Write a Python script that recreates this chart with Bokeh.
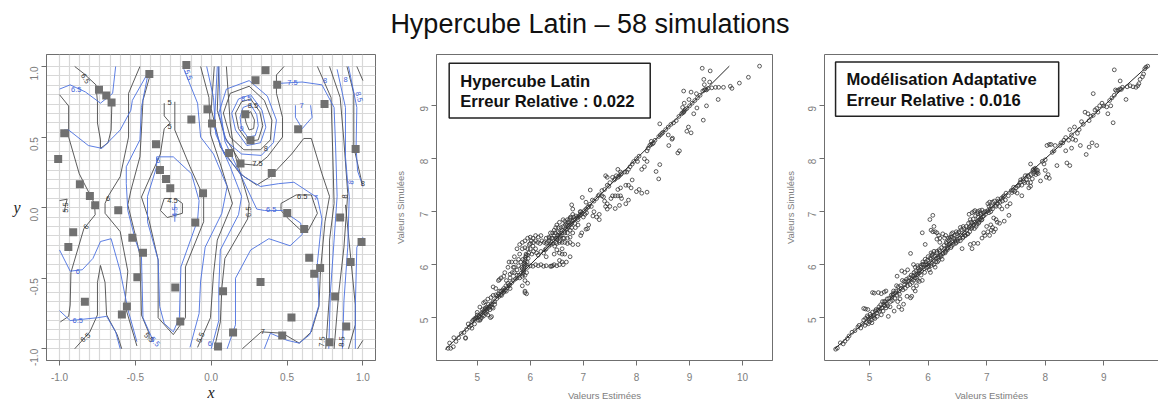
from bokeh.plotting import figure
from bokeh.layouts import column, row
from bokeh.models import Div, FixedTicker, NumeralTickFormatter, LinearAxis, Label, BoxAnnotation
from bokeh.core.properties import value
from bokeh.embed import file_html
from bokeh.resources import INLINE
from math import pi

TITLE = "Hypercube Latin – 58 simulations"
GRID_STEPS = 30

designs = [(-0.164,1.01),(-0.408,0.946),(0.358,0.974),(0.292,0.903),(0.435,0.87),(-0.74,0.835),(-0.692,0.794),(-0.657,0.745),
(0.747,0.735),(-0.025,0.697),(0.225,0.662),(-0.131,0.624),(0.005,0.596),(-0.969,0.527),(0.573,0.556),(0.259,0.478),
(-0.364,0.449),(0.952,0.416),(0.118,0.388),(-1.009,0.345),(0.193,0.312),(-0.338,0.267),(0.399,0.246),(-0.298,0.203),
(-0.27,0.137),(-0.866,0.165),(-0.054,0.102),(-0.8,0.083),(-0.765,0.017),(-0.613,-0.019),(0.501,-0.038),(0.85,-0.069),
(-0.105,-0.106),(0.613,-0.151),(-0.91,-0.175),(-0.52,-0.213),(0.991,-0.243),(-0.942,-0.279),(-0.45,-0.319),(0.646,-0.355),
(0.919,-0.385),(0.718,-0.428),(0.679,-0.468),(-0.487,-0.494),(0.325,-0.527),(-0.237,-0.565),(0.078,-0.593),(0.817,-0.629),
(-0.833,-0.667),(-0.556,-0.7),(-0.589,-0.757),(0.529,-0.778),(-0.204,-0.806),(0.89,-0.842),(0.144,-0.884),(0.468,-0.905),
(0.78,-0.953),(0.045,-0.983)]

black_contours = [
[(-0.9,1.0),(-0.84,0.95),(-0.76,0.87),(-0.75,0.75),(-0.75,0.6),(-0.73,0.48),(-0.73,0.42),(-0.68,0.46),(-0.66,0.55),(-0.655,0.74)],
[(-1,0.8),(-0.94,0.72),(-0.94,0.5),(-0.87,0.24),(-0.77,0.03),(-0.765,-0.05),(-0.84,-0.15),(-0.925,-0.46),(-0.93,-0.69),(-0.94,-0.77),(-0.995,-0.81)],
[(-0.47,1),(-0.545,0.81),(-0.545,0.5),(-0.6,0.22),(-0.68,0.08),(-0.7,0.03),(-0.7,-0.04),(-0.6,-0.17),(-0.55,-0.45),(-0.57,-0.69),(-0.49,-0.98)],
[(-0.9,-1),(-0.8,-0.88),(-0.75,-0.76),(-0.75,-0.53),(-0.73,-0.41),(-0.7,-0.53),(-0.69,-0.76),(-0.62,-0.9),(-0.59,-1)],
[(-1,0.05),(-0.95,0.06),(-0.97,-0.03)],
[(-0.4,0.95),(-0.45,0.76),(-0.46,0.55),(-0.47,0.36),(-0.53,0.12),(-0.55,0.02),(-0.49,-0.24),(-0.47,-0.34),(-0.46,-0.76),(-0.41,-0.89),(-0.41,-0.93)],
[(-0.31,0.74),(-0.31,0.65),(-0.27,0.6),(-0.31,0.56),(-0.335,0.38),(-0.46,0.075),(-0.41,-0.09),(-0.35,-0.37),(-0.35,-0.78),(-0.25,-0.9),(-0.17,-0.78),(-0.17,-0.42),(-0.05,-0.1),(-0.05,0.075),(-0.14,0.29),(-0.24,0.55),(-0.24,0.75)],
[(-0.26,0.065),(-0.31,0.065),(-0.335,-0.02),(-0.29,-0.07),(-0.19,-0.04),(-0.19,0.03),(-0.235,0.065)],
[(-0.07,1),(-0.015,0.78),(-0.005,0.52),(0.06,0.31),(0.14,0.03),(0.04,-0.23),(0.015,-0.47),(-0.005,-0.78),(-0.09,-0.99)],
[(0.1,1),(0.125,0.6),(0.15,0.4),(0.25,0.03),(0.24,-0.08),(0.09,-0.36),(0.07,-0.57),(0.06,-0.81),(0.02,-1)],
[(0.48,1),(0.43,0.94),(0.43,0.81),(0.47,0.64),(0.47,0.5),(0.37,0.36),(0.3,0.3),(0.2,0.31),(0.09,0.5),(0.04,0.69),(0.05,1)],
[(0.02,1),(-0.0,0.7),(0.06,0.43),(0.19,0.24),(0.3,0.16),(0.39,0.22),(0.53,0.38),(0.61,0.49),(0.66,0.49),(0.73,0.24),(0.78,0.08),(0.75,-0.1),(0.72,-0.45),(0.71,-0.7),(0.66,-0.88),(0.58,-0.96),(0.47,-0.89),(0.33,-0.88),(0.205,-1)],
[(0.46,0.03),(0.56,0.09),(0.66,0.09),(0.7,-0.04),(0.64,-0.16),(0.59,-0.16),(0.5,-0.07),(0.46,-0.02),(0.46,0.03)],
[(0.25,0.86),(0.35,0.76),(0.4,0.62),(0.39,0.48),(0.325,0.41),(0.215,0.41),(0.125,0.5),(0.08,0.67),(0.125,0.81),(0.25,0.86)],
[(0.26,0.77),(0.32,0.68),(0.34,0.58),(0.31,0.48),(0.24,0.47),(0.18,0.56),(0.16,0.67),(0.2,0.75),(0.26,0.77)],
[(0.26,0.68),(0.285,0.62),(0.28,0.56),(0.25,0.55),(0.23,0.6),(0.22,0.65),(0.26,0.68)],
[(0.7,1),(0.79,0.78),(0.8,0.43),(0.81,0.03),(0.78,-0.23),(0.78,-0.61),(0.755,-1)],
[(0.78,1),(0.85,0.78),(0.875,0.47),(0.9,0.1),(0.875,-0.28),(0.84,-0.61),(0.81,-1)],
[(0.895,1),(0.94,0.81),(0.94,0.43),(0.995,0.17)],
[(0.96,1),(1.0,0.9)],
[(0.885,0.02),(0.92,-0.36),(0.95,-0.69),(0.95,-0.83),(0.905,-1)],
[(1,-0.94),(0.965,-1)],
]

blue_contours = [
[(-1,0.84),(-0.93,0.87),(-0.83,0.82),(-0.73,0.74),(-0.65,0.81),(-0.63,1)],
[(-0.42,0.95),(-0.52,0.76),(-0.53,0.69),(-0.6,0.55),(-0.72,0.42),(-0.81,0.44),(-0.94,0.55),(-0.97,0.55)],
[(-0.42,0.93),(-0.46,0.71),(-0.47,0.48),(-0.56,0.29),(-0.56,0.17),(-0.55,-0.02),(-0.5,-0.23),(-0.46,-0.35),(-0.45,-0.78),(-0.38,-0.95)],
[(-1,-0.3),(-0.93,-0.45),(-0.85,-0.44),(-0.78,-0.36),(-0.73,-0.24),(-0.66,-0.22),(-0.6,-0.45),(-0.55,-0.72),(-0.49,-0.95)],
[(-1,-0.73),(-0.93,-0.8),(-0.75,-0.78),(-0.69,-0.77),(-0.63,-0.88),(-0.6,-1)],
[(-0.36,0.36),(-0.25,0.36),(-0.13,0.24),(-0.08,0.05),(-0.09,-0.09),(-0.2,-0.42),(-0.21,-0.78),(-0.25,-0.88),(-0.31,-0.82),(-0.34,-0.7),(-0.35,-0.37),(-0.42,-0.1),(-0.42,0.08),(-0.36,0.29),(-0.36,0.36)],
[(-0.24,0.03),(-0.24,-0.1)],
[(-0.18,0.98),(-0.09,0.74),(-0.07,0.5),(0.015,0.38),(0.105,0.15),(0.07,-0.04),(-0.04,-0.28),(-0.07,-0.52),(-0.08,-0.75),(-0.14,-0.99)],
[(-0.03,1),(0.015,0.78),(0.03,0.52),(0.125,0.29),(0.2,0.08),(0.18,-0.05),(0.06,-0.3),(0.05,-0.57),(0.05,-0.8),(0.0,-1)],
[(0.05,1),(0.06,0.7),(0.09,0.47),(0.19,0.24),(0.3,-0.01),(0.35,-0.02),(0.47,-0.02),(0.59,-0.11),(0.6,-0.19),(0.52,-0.27),(0.38,-0.22),(0.26,-0.3),(0.16,-0.5),(0.16,-0.83),(0.105,-1)],
[(0.04,1),(0.02,0.57),(0.085,0.38),(0.215,0.22),(0.325,0.15),(0.445,0.17),(0.545,0.18),(0.7,0.07),(0.73,-0.08),(0.7,-0.39),(0.71,-0.69),(0.65,-0.9),(0.58,-0.96),(0.5,-0.94),(0.39,-0.89),(0.35,-1)],
[(0.555,0.725),(0.555,0.64),(0.6,0.56),(0.665,0.64),(0.655,0.725)],
[(0.25,0.9),(0.37,0.79),(0.43,0.62),(0.41,0.46),(0.33,0.37),(0.2,0.38),(0.1,0.47),(0.05,0.67),(0.1,0.84),(0.25,0.9)],
[(0.26,0.8),(0.335,0.69),(0.36,0.57),(0.325,0.46),(0.235,0.44),(0.16,0.55),(0.135,0.67),(0.18,0.77),(0.26,0.8)],
[(0.26,0.73),(0.3,0.66),(0.31,0.58),(0.29,0.51),(0.24,0.5),(0.2,0.56),(0.19,0.64),(0.21,0.71),(0.26,0.73)],
[(0.44,0.88),(0.6,0.89),(0.73,0.87),(0.81,0.71),(0.82,0.43),(0.83,0.08),(0.81,-0.23),(0.785,-0.61),(0.775,-1)],
[(0.83,0.98),(0.885,0.71),(0.885,0.36),(0.9,0.17),(0.91,0.08),(0.9,-0.28),(0.875,-0.66),(0.865,-1)],
[(0.905,1),(0.96,0.71),(0.955,0.43),(0.965,0.26),(1.0,0.15)],
[(1,-0.21),(0.96,-0.28),(0.95,-0.7),(0.95,-1)],
]

black_labels = [(-0.83,0.915,"6.5",-1.0),(-0.275,0.745,"5",0),(-0.275,0.575,"5",0),(-0.68,0.065,"6",0),(-0.96,0.0,"5.5",1.57),
(-0.825,-0.135,"6",0.9),(-0.255,0.05,"4.5",0),(0.275,0.725,"8.5",0),(0.36,0.42,"8",0),(0.305,0.31,"7.5",0),(0.6,0.08,"6.5",0),
(0.245,-0.03,"6.5",1.57),(0.34,-0.88,"7",0),(-0.83,-0.92,"6.5",0.7),(-0.07,-0.92,"5.5",1.2),(-0.41,-0.92,"5.5",-0.8),(0.88,0.08,"8",1.57),
(0.73,-0.95,"7.5",1.5),(0.86,-0.95,"8.5",1.5),(1.0,0.17,"8",0)]
blue_labels = [(-0.89,0.84,"6.5",0),(-0.15,0.94,"5.5",-1.2),(0.535,0.885,"7.5",0),(0.75,0.9,"8",0),(0.885,0.91,"8",0),(0.975,0.785,"8.5",-1.3),
(0.23,0.77,"8.5",0),(0.2,0.56,"9",0),(0.595,0.725,"7",0),(-0.35,0.335,"5",0),(-0.24,-0.03,"4.5",1.57),(0.69,0.075,"7",0),(0.395,-0.015,"6.5",0),
(0.92,0.18,"8",1.4),(-0.88,-0.45,"6",0),(-0.88,-0.8,"6.5",0),(-0.37,-0.95,"5.5",-0.8),(-0.01,-0.965,"6",0)]

x_ticks_a = [-1.0,-0.5,0.0,0.5,1.0]
y_ticks_a = [-1.0,-0.5,0.0,0.5,1.0]
x_ticks_b = [5,6,7,8,9,10]
y_ticks_b = [5,6,7,8,9]
x_ticks_c = [5,6,7,8,9]
y_ticks_c = [5,6,7,8,9]

latin_points = [
(4.45,4.42),(4.5,4.42),(4.55,4.45),(4.48,4.52),(4.56,4.62),(4.6,4.55),(4.65,4.62),(4.7,4.7),(4.75,4.72),(4.78,4.62),(4.78,4.61),(4.8,4.78),(4.85,4.82),(4.83,4.88),(4.88,4.85),(4.9,4.92),(4.92,4.95),(4.95,4.98),(4.98,5.0),(4.9,4.8),(4.95,4.88),(5.0,5.05),(5.03,5.02),(5.02,4.95),(5.06,4.97),(5.08,5.0),(5.1,5.1),(5.1,5.15),(5.12,5.03),(5.15,5.18),(5.17,5.08),(5.18,5.2),(5.2,5.05),(5.22,5.18),(5.24,5.15),(5.25,5.0),(5.27,5.02),(5.28,5.2),(5.3,5.18),(5.05,5.2),(5.12,5.28),(5.2,5.35),(5.15,5.3),(5.26,5.38),(5.3,5.42),(5.35,5.43),(5.4,5.45),(5.45,5.5),(5.35,5.55),(5.3,5.58),(5.4,5.7),(5.42,5.72),(5.45,5.75),(5.5,5.78),(5.48,5.52),(5.5,5.55),(5.55,5.5),(5.6,5.6),(5.62,5.55),(5.55,5.7),
(4.96,4.97),(5.0,5.0),(5.04,5.04),(5.07,5.07),(5.13,5.13),(5.16,5.16),(5.19,5.17),(5.23,5.21),(5.27,5.26),(5.33,5.3),(5.37,5.36),(5.41,5.4),(5.44,5.43),(5.47,5.46),(5.51,5.5),(5.53,5.52),(5.57,5.57),(5.61,5.62),(5.65,5.66),(5.68,5.7),(5.72,5.73),(5.75,5.75),(5.79,5.8),
(5.6,6.05),(5.65,6.05),(5.68,5.95),(5.7,6.15),(5.58,5.95),(5.52,5.85),(5.62,5.82),(5.7,5.85),(5.75,5.9),(5.78,6.1),(5.8,6.2),(5.75,6.3),(5.8,6.38),(5.85,6.42),(5.9,6.45),(5.95,6.5),(6.0,6.52),(6.05,6.5),(6.1,6.55),(6.15,6.52),(6.2,6.55),(6.3,6.5),(6.35,6.52),(5.72,6.05),(5.8,5.75),(5.85,5.6),(5.9,5.5),(5.9,5.47),(5.93,5.45),(5.9,5.7),(5.95,5.65),
(5.85,5.78),(5.86,5.82),(5.87,5.86),(5.88,5.9),(5.88,5.94),(5.89,5.98),(5.9,6.02),(5.9,6.06),(5.9,6.1),(5.91,6.14),(5.92,6.17),(5.92,6.2),(5.95,6.18),(5.83,5.84),(5.85,5.92),(5.93,5.85),(5.9,5.8),(5.95,5.95),(5.95,6.3),(5.9,6.32),(5.85,6.3),(6.0,6.3),(6.05,6.35),(6.0,6.4),(5.97,6.22),(6.03,6.2),(6.06,6.25),(6.1,6.3),(6.12,6.22),(6.15,6.18),(6.2,6.25),(6.25,6.22),(6.28,6.28),
(6.0,5.98),(6.05,5.97),(6.1,6.0),(6.15,5.98),(6.2,6.0),(6.25,5.97),(6.3,5.98),(6.38,5.97),(6.4,5.97),(6.42,5.98),(6.45,6.0),(6.5,5.98),(6.55,6.08),(6.6,6.05),(6.55,6.0),(6.62,6.0),(6.68,6.05),(6.75,6.15),(6.65,6.2),(6.6,6.2),(6.55,6.22),(6.5,6.28),(6.45,6.2),(6.3,6.15),
(6.3,6.4),(6.35,6.45),(6.4,6.42),(6.42,6.5),(6.45,6.55),(6.42,6.6),(6.45,6.65),(6.48,6.5),(6.5,6.48),(6.52,6.55),(6.55,6.52),(6.48,6.7),(6.5,6.75),(6.55,6.8),(6.52,6.62),(6.58,6.7),(6.6,6.65),(6.62,6.85),(6.65,6.6),(6.55,6.6),(6.48,6.42),(6.55,6.42),(6.6,6.42),(6.65,6.42),(6.7,6.4),(6.75,6.42),(6.62,6.5),(6.7,6.5),(6.75,6.52),(6.8,6.38),(6.9,6.38),(6.6,6.3),
(6.3,6.3),(6.35,6.35),(6.38,6.38),(6.5,6.5),(6.55,6.55),(6.6,6.6),(6.64,6.63),(6.67,6.67),(6.7,6.68),(6.72,6.72),(6.74,6.75),(6.76,6.76),(6.78,6.78),(6.8,6.82),(6.82,6.84),(6.84,6.86),(6.88,6.88),(6.9,6.9),(6.92,6.92),(6.94,6.94),(6.96,6.95),(6.98,6.98),
(6.65,6.82),(6.7,6.85),(6.75,6.88),(6.8,6.95),(6.8,7.05),(6.78,7.13),(6.7,6.75),(6.75,6.65),(6.8,6.6),(6.85,6.7),(6.9,6.75),(6.95,6.55),(6.97,6.6),(7.05,6.67),(7.08,6.68),(7.1,6.75),(6.95,7.0),(6.98,7.27),(7.05,7.18),(7.02,7.02),(7.05,7.05),(7.08,7.08),(7.1,7.1),(7.12,7.14),(7.15,7.1),(7.2,7.0),(7.18,6.92),(7.13,7.41),(7.17,7.22),(7.2,7.2),(7.25,7.25),(7.28,7.3),(7.3,6.95),(7.25,6.9),(7.3,6.85),(7.3,7.32),(7.35,7.3),(7.38,7.28),(7.4,7.2),(7.42,7.1),(7.45,7.05),(7.45,7.15),(7.5,7.1),(7.52,7.25),(7.55,7.3),
(7.35,7.4),(7.4,7.42),(7.45,7.5),(7.42,7.68),(7.45,7.65),(7.48,7.48),(7.5,7.55),(7.55,7.65),(7.58,7.6),(7.6,7.62),(7.62,7.68),(7.65,7.65),(7.67,7.67),(7.7,7.7),(7.72,7.72),(7.65,7.8),(7.7,7.75),(7.6,7.06),(7.68,7.12),(7.65,7.3),(7.7,7.3),(7.72,7.25),(7.6,7.3),(7.65,7.42),(7.7,7.45),(7.8,7.15),(7.85,7.22),(7.8,7.5),(7.85,7.5),(7.9,7.45),(7.92,7.6),(7.78,7.75),(7.82,7.75),(7.85,7.8),(7.88,7.85),(7.92,7.9),
(7.95,7.95),(8.0,8.0),(8.02,7.95),(8.05,8.05),(8.0,7.38),(8.05,7.42),(8.1,7.35),(8.2,7.37),(8.1,7.8),(8.15,7.85),(8.2,7.95),(8.15,8.0),(8.22,8.2),(8.25,8.25),(8.27,8.27),(8.3,8.28),(8.32,8.3),(8.28,8.33),(8.35,8.35),(8.2,8.15),(8.37,7.76),(8.44,7.89),(8.42,7.62),(8.42,8.42),(8.45,8.45),(8.48,8.48),(8.44,8.66),(8.5,8.5),(8.55,8.55),(8.6,8.6),(8.65,8.65),(8.7,8.68),(8.75,8.72),(8.6,8.45),(8.68,8.39),(8.67,8.37),(8.61,8.25),(8.81,8.15),(8.78,8.11),(8.8,8.8),(8.85,8.85),(8.87,8.87),(8.89,8.88),(8.9,8.9),(8.92,8.93),(8.95,8.95),(8.87,8.97),(8.9,9.05),(8.89,9.28),(9.03,9.26),(9.13,9.23),(8.99,9.12),(9.08,8.85),(9.14,8.96),(8.98,8.6),(8.95,8.52),(9.03,8.49),(9.0,9.0),(9.05,9.05),(9.1,9.1),(9.15,9.15),(9.2,9.2),(9.25,9.28),(9.28,9.3),(9.3,9.31),(9.32,9.3),(9.35,9.33),
(10.32,9.75),(10.11,9.54),(9.94,9.43),(9.77,9.37),(9.8,9.33),(9.64,9.35),(9.55,9.35),(9.49,9.35),(9.42,9.34),(9.24,9.71),(9.39,9.66),(9.27,9.5),(9.38,9.45),(9.54,9.12),(9.32,9.0),(9.26,8.73),(9.28,9.4),
(5.0,5.1),(5.05,4.95),(5.1,5.05),(5.14,5.1),(5.18,5.12),(5.21,5.25),(5.25,5.22),(5.3,5.3),(5.33,5.25),(5.38,5.41),(5.42,5.5),(5.46,5.42),(5.5,5.48),(5.54,5.6),(5.58,5.65),(5.62,5.75),(5.66,5.85),(5.7,5.95),(5.75,5.8),(5.78,5.98),(5.82,6.05),(5.84,5.95),(5.86,6.1),(5.88,6.02),(5.92,6.0),(5.94,6.05),(5.96,6.12),(5.98,6.38),(6.02,6.45),(6.06,6.42),(6.1,6.45),(6.14,6.42),(6.18,6.4),(6.22,6.45),(6.26,6.42),(6.32,6.42),(6.36,6.5),(6.38,6.6),(6.4,6.5),(6.43,6.4),(6.46,6.35),(6.47,6.6),(6.5,6.4),(6.53,6.7),(6.56,6.45),(6.58,6.55),(6.62,6.72),(6.64,6.5),(6.66,6.75),(6.68,6.78),(6.7,6.6),(6.72,6.8),(6.74,6.85),(6.76,6.9),(6.78,6.7),(6.82,6.9),(6.84,6.78),(6.86,6.92),(6.9,6.85),(6.94,7.0),(7.0,6.9),(7.03,6.95),(7.06,6.98),
]

adaptive_points = [
(4.42,4.4),(4.45,4.42),(4.5,4.52),(4.55,4.5),(4.58,4.55),(4.62,4.6),(4.65,4.65),(4.7,4.72),(4.75,4.75),(4.8,4.82),(4.82,4.85),(4.85,4.8),(4.88,4.88),(4.9,4.95),(4.92,4.85),(4.95,4.9),(4.97,5.0),(4.98,4.88),(5.0,4.92),(5.02,5.02),(5.04,4.9),(5.05,5.1),(5.07,5.0),(5.08,5.05),(5.1,5.12),(5.12,5.08),(4.9,5.17),(4.93,5.16),(4.97,5.15),(5.05,5.47),(5.08,5.46),(5.15,5.47),(5.2,5.45),(5.25,5.48),(5.28,5.5),
(5.14,5.14),(5.16,5.2),(5.18,5.16),(5.2,5.05),(5.22,5.3),(5.24,5.24),(5.26,5.22),(5.28,5.18),(5.25,5.3),(5.3,5.35),(5.32,5.02),(5.35,5.2),(5.36,5.3),(5.38,5.38),(5.4,5.42),(5.42,5.12),(5.4,5.45),(5.44,5.46),(5.46,5.6),(5.48,5.3),(5.5,5.5),(5.52,5.35),(5.54,5.55),(5.56,5.7),(5.58,5.25),(5.6,5.62),(5.62,5.68),(5.64,5.4),(5.66,5.68),(5.5,5.2),(5.55,5.15),(5.47,5.78),(5.55,5.88),(5.6,5.85),(5.65,5.9),(5.7,5.37),(5.72,5.4),(5.75,5.55),(5.78,5.5),(5.8,5.6),(5.82,5.7),
(5.7,5.75),(5.72,5.72),(5.74,5.78),(5.76,5.85),(5.78,5.75),(5.8,5.8),(5.82,5.82),(5.84,5.88),(5.86,5.9),(5.7,6.21),(5.75,6.0),(5.78,5.95),(5.82,5.98),(5.88,5.8),(5.9,5.7),(5.85,5.68),(5.9,6.6),(5.95,6.38),(5.88,5.95),(5.9,6.0),(5.92,6.0),(5.94,5.85),(5.96,6.05),(5.98,6.0),(6.0,5.95),(6.02,6.02),(6.04,5.85),(6.05,6.1),(6.06,6.02),(6.08,6.2),(6.1,6.0),(6.12,5.95),(6.14,6.12),(6.16,6.05),(6.18,6.08),(6.2,6.25),(6.22,6.15),(6.24,6.1),(6.0,6.15),(6.05,6.22),(6.1,6.25),(6.15,6.22),(6.18,6.15),(5.95,6.0),(6.02,5.9),
(6.03,6.85),(6.08,6.93),(6.1,6.72),(6.12,6.62),(6.05,6.65),(6.08,6.62),(6.15,6.6),(6.18,6.55),(6.2,6.5),(6.15,6.48),(6.2,6.42),(6.25,6.58),(6.28,6.5),(6.3,6.55),(6.32,6.4),(6.35,6.45),(6.26,6.22),(6.28,6.3),(6.3,6.25),(6.32,6.3),(6.34,6.32),(6.36,6.38),(6.38,6.4),(6.4,6.35),(6.42,6.42),(6.44,6.5),(6.46,6.45),(6.48,6.42),(6.5,6.48),(6.52,6.6),(6.54,6.5),(6.56,6.55),(6.58,6.3),(6.6,6.52),(6.62,6.6),(6.64,6.55),(6.66,6.65),(6.68,6.58),(6.7,6.7),(6.55,6.7),(6.6,6.72),(6.42,6.6),(6.48,6.62),(6.4,6.58),(6.35,6.5),(6.38,6.52),
(6.72,6.72),(6.74,6.68),(6.76,6.78),(6.78,6.75),(6.8,6.8),(6.82,6.72),(6.84,6.82),(6.85,6.9),(6.86,6.78),(6.88,6.85),(6.7,6.95),(6.72,6.85),(6.75,6.98),(6.78,7.0),(6.8,7.02),(6.85,7.0),(6.88,7.02),(6.9,6.95),(6.92,7.03),(6.95,6.98),(6.9,6.88),(6.92,6.85),(6.95,6.92),(6.78,6.4),(6.75,6.3),(6.72,6.38),(6.85,6.4),(6.92,6.5),(6.95,6.6),(6.97,6.55),(7.0,6.72),(7.02,6.62),(7.05,6.55),(7.07,6.75),(7.08,6.65),(7.1,6.7),(7.12,6.62),(7.15,6.67),(7.18,6.8),(7.22,6.78),(7.12,6.88),(7.16,6.85),(7.3,6.82),
(6.98,6.95),(7.0,7.0),(7.02,7.02),(7.04,6.98),(7.06,7.05),(7.08,7.1),(7.1,7.05),(7.02,7.15),(7.05,7.18),(7.1,7.18),(7.15,7.12),(7.18,7.15),(7.2,7.2),(7.22,7.1),(7.25,7.25),(7.28,7.28),(7.3,7.3),(7.26,7.05),(7.32,7.22),(7.35,7.1),(7.38,6.93),(7.4,7.15),(7.42,7.4),(7.45,7.4),(7.48,7.38),(7.5,7.45),(7.52,7.35),(7.55,7.5),(7.58,7.6),(7.6,7.5),(7.6,7.3),(7.62,7.62),(7.65,7.55),(7.68,7.6),(7.7,7.68),(7.72,7.45),(7.75,7.55),(7.78,7.62),(7.8,7.72),(7.82,7.75),(7.84,7.7),(7.85,7.78),(7.86,7.74),(7.88,7.72),(7.75,7.9),(7.8,7.8),(7.7,7.55),(7.75,7.48),(7.92,7.58),
(7.95,7.95),(7.98,7.9),(8.0,7.98),(8.02,7.65),(8.05,7.7),(8.07,7.63),(8.0,7.78),(8.03,8.25),(8.07,8.27),(8.1,8.27),(8.12,8.12),(8.15,8.15),(8.17,8.25),(8.2,7.87),(8.25,8.25),(8.27,8.3),(8.3,8.3),(8.32,8.35),(8.35,8.4),(8.37,7.92),(8.42,7.87),(8.35,8.15),(8.45,8.2),(8.4,8.35),(8.42,8.55),(8.45,8.45),(8.47,8.37),(8.5,8.6),(8.52,8.35),(8.55,8.48),(8.58,8.55),(8.6,8.25),(8.62,8.7),(8.65,8.65),(8.7,8.08),(8.75,8.22),(8.8,8.3),(8.88,8.25),(8.68,8.88),(8.73,8.85),(8.75,8.72),(8.78,8.8),(8.82,8.82),(8.85,8.92),(8.88,8.95),(8.9,8.88),(8.93,9.0),(8.82,9.23),(8.97,9.05),(9.0,9.0),(9.05,8.98),(9.07,8.85),(9.12,9.0),(9.16,8.68),(9.1,9.1),(9.14,9.15),(9.18,9.2),(9.2,9.3),(9.22,9.28),(9.25,9.3),(9.28,9.32),(9.3,9.31),(9.32,9.35),(9.18,9.68),(9.28,9.47),(9.38,9.12),(9.4,9.36),(9.45,9.38),(9.5,9.36),(9.55,9.35),(9.58,9.38),(9.6,9.42),(9.62,9.5),(9.66,9.55),(9.68,9.6),(9.7,9.7),(9.75,9.75),(9.72,9.73),
(4.93,4.98),(4.96,5.03),(4.99,4.97),(5.01,5.06),(5.03,4.95),(5.06,5.03),(5.09,4.98),(5.11,5.15),(5.13,5.02),(5.17,5.12),(5.19,5.24),(5.21,5.18),(5.23,5.12),(5.27,5.3),(5.29,5.26),(5.31,5.22),(5.33,5.36),(5.37,5.42),(5.39,5.32),(5.41,5.5),(5.43,5.36),(5.45,5.5),(5.47,5.42),(5.49,5.58),(5.51,5.44),(5.53,5.6),(5.57,5.52),(5.59,5.68),(5.61,5.55),(5.63,5.72),(5.65,5.6),(5.67,5.75),(5.69,5.62),(5.71,5.8),(5.73,5.66),(5.75,5.7),(5.77,5.8),(5.79,5.88),(5.81,5.74),(5.83,5.94),(5.85,5.84),(5.87,5.98),(5.89,5.88),(5.91,6.05),(5.93,5.92),(5.95,6.1),(5.97,5.94),(5.99,6.08),(6.01,5.98),(6.03,6.12),(6.05,5.98),(6.07,6.18),(6.09,6.08),(6.11,6.16),(6.13,6.05),(6.15,6.25),(6.17,6.12),(6.19,6.28),(6.21,6.18),(6.23,6.32),(6.25,6.2),(6.27,6.36),(6.29,6.22),(6.31,6.42),(6.33,6.28),(6.35,6.38),(6.37,6.48),(6.39,6.32),(6.41,6.52),(6.43,6.38),(6.45,6.55),(6.47,6.4),(6.49,6.58),(6.51,6.44),(6.53,6.62),(6.55,6.45),(6.57,6.66),(6.59,6.5),(6.61,6.68),(6.63,6.55),(6.65,6.72),(6.67,6.58),(6.69,6.78),(6.71,6.62),(6.73,6.8),(6.75,6.7),(6.77,6.86),(6.79,6.68),(6.81,6.92),(6.83,6.76),(6.85,6.96),(6.87,6.8),(6.89,6.98),(6.91,6.84),(6.93,6.9),(6.97,7.0),
(7.04,7.1),(7.07,7.0),(7.13,7.2),(7.16,7.1),(7.19,7.24),(7.23,7.18),(7.27,7.2),(7.33,7.35),(7.37,7.3),(7.43,7.36),(7.46,7.46),(7.53,7.48),(7.57,7.55),(7.63,7.58),(7.66,7.68),(7.72,7.66),(7.76,7.7),(7.79,7.78),(7.83,7.82),(7.87,7.78),
]

REF_START = 4.4
REF_END = 9.75

FONT = "Liberation Sans"
GRAY = "#6f6f6f"

def style(p, xt, yt, fmt=None):
    p.xaxis.ticker = FixedTicker(ticks=xt)
    p.yaxis.ticker = FixedTicker(ticks=yt)
    if fmt:
        p.xaxis.formatter = NumeralTickFormatter(format=fmt)
        p.yaxis.formatter = NumeralTickFormatter(format=fmt)
    for ax in (p.xaxis[0], p.yaxis[0]):
        ax.axis_line_color = GRAY
        ax.major_tick_line_color = GRAY
        ax.minor_tick_line_color = None
        ax.major_tick_out = 5
        ax.major_tick_in = 0
        ax.major_label_text_color = "#7d7d7d"
        ax.major_label_text_font = FONT
        ax.major_label_text_font_size = "10px"
    p.yaxis.major_label_orientation = pi / 2
    p.xaxis.major_label_standoff = 7
    p.yaxis.major_label_standoff = 7
    p.outline_line_color = GRAY
    p.outline_line_width = 1

def fig(w, left, right, xr, yr):
    return figure(width=w, height=363, x_range=xr, y_range=yr, output_backend="svg", toolbar_location=None,
                  min_border_left=left, min_border_right=right, min_border_top=14, min_border_bottom=43,
                  background_fill_color="white", border_fill_color="white", margin=(0,0,0,0))

# --- left panel
p1 = fig(390, 46, 15, (-1.086, 1.083), (-1.083, 1.085))
style(p1, x_ticks_a, y_ticks_a, "0.0")
grid_vals = [-1 + 2 * i / GRID_STEPS for i in range(GRID_STEPS + 1)]
p1.xgrid.ticker = FixedTicker(ticks=grid_vals)
p1.ygrid.ticker = FixedTicker(ticks=grid_vals)
p1.grid.grid_line_color = "#d8d8d8"
p1.grid.grid_line_width = 1.2
p1.xaxis.axis_label = "x"
p1.yaxis.axis_label = "y"
for ax in (p1.xaxis[0], p1.yaxis[0]):
    ax.axis_label_text_font = "Liberation Serif"
    ax.axis_label_text_font_style = "italic"
    ax.axis_label_text_font_size = "16px"
    ax.axis_label_text_color = "#222222"
p1.yaxis.axis_label_orientation = "horizontal"
p1.xaxis.axis_label_standoff = 0
p1.yaxis.axis_label_standoff = 3
p1.multi_line([[q[0] for q in c] for c in black_contours], [[q[1] for q in c] for c in black_contours], line_color="#4a4a4a", line_width=0.9, line_join="round")
p1.multi_line([[q[0] for q in c] for c in blue_contours], [[q[1] for q in c] for c in blue_contours], line_color="#4a6fe0", line_width=0.9, line_join="round")
p1.scatter([d[0] for d in designs], [d[1] for d in designs], marker="square", size=8, fill_color="#707070", line_color="#707070", line_width=0)
p1.text([l[0] for l in black_labels], [l[1] for l in black_labels], text=[l[2] for l in black_labels], angle=[l[3] for l in black_labels],
        text_font=value(FONT), text_font_size="7.5px", text_color="#333333", text_align="center", text_baseline="middle")
p1.text([l[0] for l in blue_labels], [l[1] for l in blue_labels], text=[l[2] for l in blue_labels], angle=[l[3] for l in blue_labels],
        text_font=value(FONT), text_font_size="7.5px", text_color="#3f63d8", text_align="center", text_baseline="middle")

def scatter_panel(w, left, right, xr, yr, pts, xt, yt, box, lines, tx, y_standoff):
    p = fig(w, left, right, xr, yr)
    style(p, xt, yt)
    p.grid.grid_line_color = None
    p.xaxis.axis_label = "Valeurs Estimées"
    p.yaxis.axis_label = "Valeurs Simulées"
    for ax in (p.xaxis[0], p.yaxis[0]):
        ax.axis_label_text_font = FONT
        ax.axis_label_text_font_style = "normal"
        ax.axis_label_text_font_size = "9.5px"
        ax.axis_label_text_color = "#7d7d7d"
    p.xaxis.axis_label_standoff = 6
    p.yaxis.axis_label_standoff = y_standoff
    p.line([REF_START, REF_END], [REF_START, REF_END], line_color="#222222", line_width=1)
    p.scatter([q[0] for q in pts], [q[1] for q in pts], marker="circle", size=3.8, fill_color=None, line_color="#333333", line_width=0.8)
    p.add_layout(BoxAnnotation(left=box[0], right=box[1], bottom=box[2], top=box[3], fill_color="white", fill_alpha=1,
                               line_color="#222222", line_alpha=1, line_width=1.5, level="overlay"))
    for txt, y in lines:
        p.add_layout(Label(x=tx, y=y, text=txt, text_font=FONT, text_font_style="bold", text_font_size="16.6px",
                           text_color="#111111", text_baseline="middle", level="overlay"))
    return p

p2 = scatter_panel(390, 46, 8, (4.233, 10.564), (4.19, 9.97), latin_points, x_ticks_b, y_ticks_b,
                   (4.472, 8.26, 8.77, 9.805), [("Hypercube Latin", 9.464), ("Erreur Relative : 0.022", 9.073)], 4.68, 8)
p3 = scatter_panel(378, 44, 0, (4.23, 9.935), (4.186, 9.97), adaptive_points, x_ticks_c, y_ticks_c,
                   (4.419, 8.23, 8.805, 9.827), [("Modélisation Adaptative", 9.5), ("Erreur Relative : 0.016", 9.108)], 4.605, 6)
p3.outline_line_color = None
top = LinearAxis(major_tick_line_color=None, minor_tick_line_color=None, major_label_text_font_size="0px",
                 axis_line_color=GRAY, major_label_standoff=0)
top.ticker = FixedTicker(ticks=[])
p3.add_layout(top, "above")

title = Div(text=TITLE, width=1158, height=40, margin=(0,0,0,0),
            styles={"font-family": "Liberation Sans", "font-size": "27px", "color": "#111111", "text-align": "center",
                    "padding-left": "22px", "padding-top": "9px", "box-sizing": "border-box", "line-height": "30px"})

root = column(title, row(p1, p2, p3, spacing=0, margin=(0,0,0,0)), spacing=0, margin=(0,0,0,0))
open("out.html", "w").write(file_html(root, INLINE))
